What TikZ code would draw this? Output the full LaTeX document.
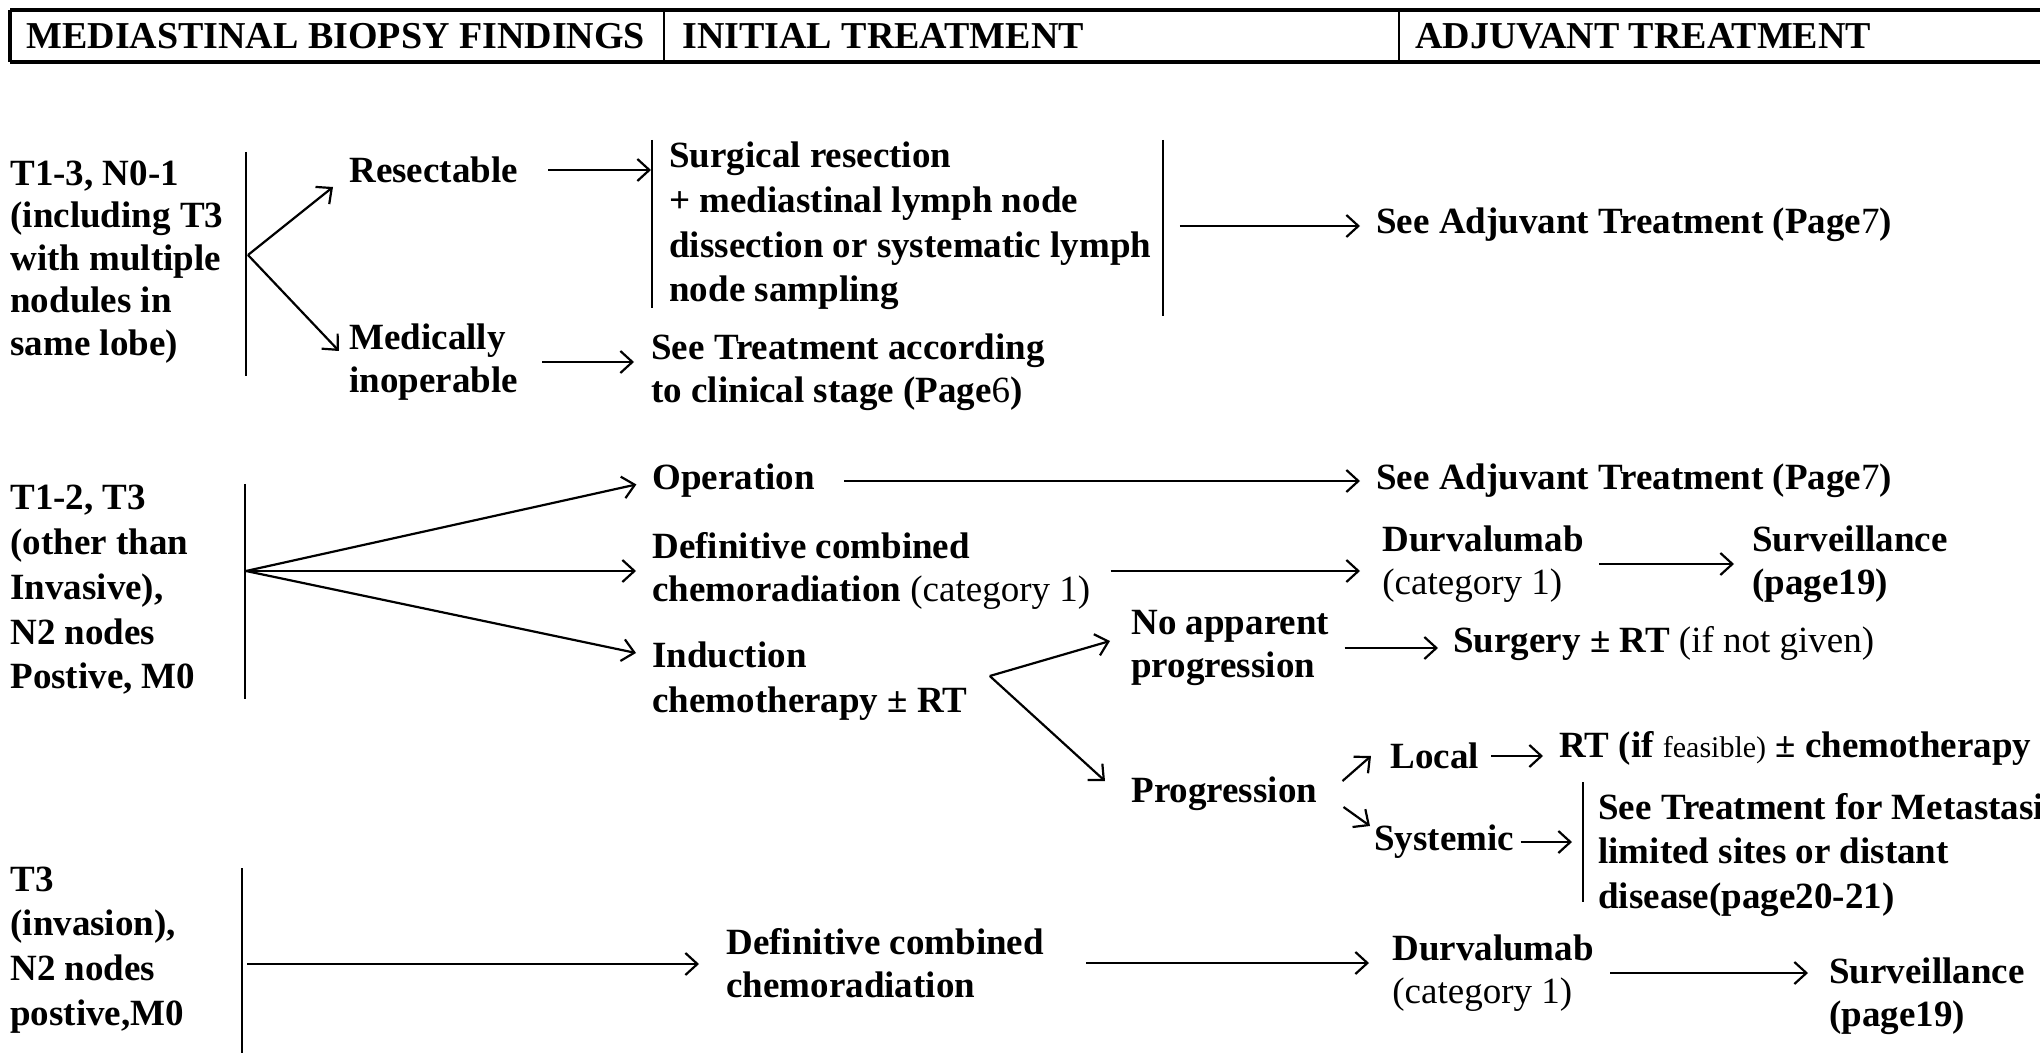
\documentclass[tikz,border=0pt]{standalone}
\usepackage{fontspec}
\setmainfont{Liberation Serif}
\usetikzlibrary{arrows.meta,calc}

\begin{document}
\begin{tikzpicture}[x=0.5pt,y=-0.5pt,
  txt/.style={anchor=west,inner sep=0pt,align=left,font=\bfseries\fontsize{18.5}{21.3}\selectfont},
  wide/.style={font=\bfseries\fontsize{18.5}{22.4}\selectfont},
  hdr/.style={anchor=west,inner sep=0pt,font=\bfseries\fontsize{19}{22}\selectfont},
  arr/.style={line width=1.1pt,-{Straight Barb[length=6pt,width=11pt]}},
  bar/.style={line width=0.9pt},
  frame/.style={line width=1.6pt},
  divider/.style={line width=0.8pt}]

\useasboundingbox (0,0) rectangle (2040,1053);
\clip (0,0) rectangle (2040,1053);

% ---------- header row ----------
\draw[frame] (10,10) -- (2060,10);
\draw[frame] (10,62) -- (2060,62);
\draw[frame] (10,10) -- (10,62);
\draw[divider] (664,10) -- (664,62);
\draw[divider] (1399,10) -- (1399,62);
\node[hdr] (h1) at (26,36) {MEDIASTINAL BIOPSY FINDINGS};
\node[hdr] (h2) at (682,36) {INITIAL TREATMENT};
\node[hdr] (h3) at (1415,36) {ADJUVANT TREATMENT};

% ---------- T1-3, N0-1 ----------
\node[txt] (c1) at (10,262) {T1-3, N0-1\\(including T3\\with multiple\\nodules in\\same lobe)};
\draw[bar] (246,152) -- (246,376);
\coordinate (f1) at (248,255);
\node[txt] (res) at (349,170) {Resectable};
\node[txt] (med) at (349,362) {Medically\\inoperable};
\node[txt,wide] (surg) at (669,226) {Surgical resection\\+ mediastinal lymph node\\dissection or systematic lymph\\node sampling};
\draw[bar] (652,140) -- (652,308);
\draw[bar] (1163,140) -- (1163,316);
\node[txt] (seet) at (651,372) {See Treatment according\\to clinical stage (Page{\mdseries 6})};
\node[txt] (adj1) at (1376,225) {See Adjuvant Treatment (Page{\mdseries 7})};

\draw[arr] (f1) -- ($(res.west)+(-16,17)$);
\draw[arr] (f1) -- ($(med.west)+(-10,-11)$);
\draw[arr,shorten <=15pt,shorten >=9pt] (res.east) -- (res.east -| surg.west);
\draw[arr,shorten <=12pt,shorten >=8.5pt] (med.east) -- (med.east -| seet.west);
\draw[arr,shorten <=14pt,shorten >=8pt] (surg.east) -- (surg.east -| adj1.west);

% ---------- T1-2, T3, N2 ----------
\node[txt,wide] (c2) at (10,590) {T1-2, T3\\(other than\\Invasive),\\N2 nodes\\Postive, M0};
\draw[bar] (245,484) -- (245,699);
\coordinate (f2) at (246,571);
\node[txt] (op) at (652,481) {Operation};
\node[txt] (adj2) at (1376,481) {See Adjuvant Treatment (Page{\mdseries 7})};
\node[txt] (dcr) at (652,571) {Definitive combined\\chemoradiation {\mdseries (category 1)}};
\node[txt] (dur1) at (1382,564) {Durvalumab\\{\mdseries (category 1)}};
\node[txt] (sur1) at (1752,564) {Surveillance\\(page19)};
\node[txt,wide] (ind) at (652,681) {Induction\\chemotherapy ± RT};
\node[txt] (nap) at (1131,648) {No apparent\\progression};
\node[txt] (surgrt) at (1453,644) {Surgery ± RT {\mdseries (if not given)}};
\node[txt] (prog) at (1131,794) {Progression};
\node[txt] (loc) at (1390,756) {Local};
\node[txt] (rtch) at (1559,748) {RT (if {\mdseries\fontsize{15}{17}\selectfont feasible)} ± chemotherapy};
\node[txt] (sys) at (1374,842) {Systemic};
\node[txt,wide] (meta) at (1598,855) {See Treatment for Metastasis\\limited sites or distant\\disease(page20-21)};
\draw[bar] (1583,782) -- (1583,902);

\draw[arr,shorten >=8pt] (f2) -- (op.west);
\draw[arr,shorten >=8pt] (f2) -- (dcr.west);
\draw[arr] (f2) -- ($(ind.west)+(-16,-28)$);
\draw[arr,shorten <=14.5pt,shorten >=8pt] (op.east) -- (adj2.west);
\draw[arr,shorten <=10pt,shorten >=11pt] (dcr.east) -- (dcr.east -| dur1.west);
\draw[arr,shorten <=7.5pt,shorten >=9pt] (dur1.east) -- (dur1.east -| sur1.west);

\coordinate (f3) at ($(ind.east)+(22,-5)$);
\draw[arr] (f3) -- ($(nap.west)+(-21,-7)$);
\draw[arr] (f3) -- ($(prog.west)+(-26,-13)$);
\draw[arr,shorten <=7.5pt,shorten >=7.5pt] (nap.east) -- (nap.east -| surgrt.west);
\draw[arr] ($(prog.east)+(25,-13)$) -- ($(loc.west)+(-19,0)$);
\draw[arr] ($(prog.east)+(26,13)$) -- ($(sys.west)+(-4,-16)$);
\draw[arr,shorten <=6pt,shorten >=8pt] (loc.east) -- (loc.east -| rtch.west);
\draw[arr,shorten <=3pt,shorten >=5.5pt] (sys.east) -- (sys.east -| 1583,0);

% ---------- T3 invasion, N2 ----------
\node[txt,wide] (c3) at (10,950) {T3\\(invasion),\\N2 nodes\\postive,M0};
\draw[bar] (242,868) -- (242,1060);
\coordinate (b3) at (242,964);
\node[txt] (dcr2) at (726,963) {Definitive combined\\chemoradiation};
\node[txt] (dur2) at (1392,973) {Durvalumab\\{\mdseries (category 1)}};
\node[txt] (sur2) at (1829,996) {Surveillance\\(page19)};

\draw[arr,shorten <=2.5pt,shorten >=13.5pt] (b3) -- (b3 -| dcr2.west);
\draw[arr,shorten <=21pt,shorten >=11.5pt] (dcr2.east) -- (dcr2.east -| dur2.west);
\draw[arr,shorten <=8pt,shorten >=10.5pt] (dur2.east) -- (dur2.east -| sur2.west);

\end{tikzpicture}
\end{document}
